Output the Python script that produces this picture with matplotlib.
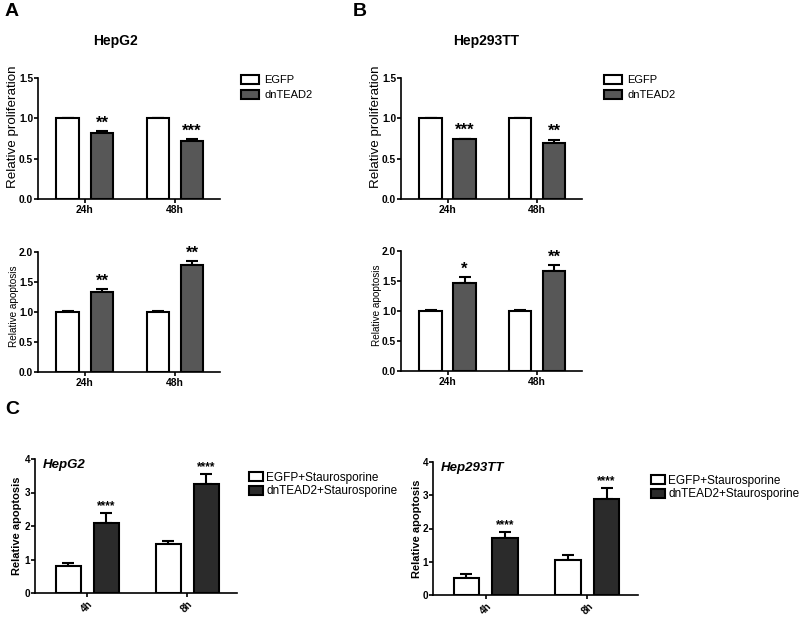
import numpy as np
import matplotlib
matplotlib.use("Agg")
import matplotlib.pyplot as plt

plt.rcParams['font.family'] = ['Liberation Sans', 'DejaVu Sans']

# data
times_ab = ['24h', '48h']
times_c = ['4h', '8h']

hepg2_prolif_egfp = [1.0, 1.0]
hepg2_prolif_egfp_err = [0.01, 0.01]
hepg2_prolif_dn = [0.82, 0.72]
hepg2_prolif_dn_err = [0.02, 0.02]
hepg2_prolif_stars = ['**', '***']

hepg2_apop_egfp = [1.0, 1.0]
hepg2_apop_egfp_err = [0.01, 0.01]
hepg2_apop_dn = [1.34, 1.78]
hepg2_apop_dn_err = [0.04, 0.07]
hepg2_apop_stars = ['**', '**']

hep293_prolif_egfp = [1.0, 1.0]
hep293_prolif_egfp_err = [0.01, 0.01]
hep293_prolif_dn = [0.74, 0.70]
hep293_prolif_dn_err = [0.01, 0.035]
hep293_prolif_stars = ['***', '**']

hep293_apop_egfp = [1.0, 1.0]
hep293_apop_egfp_err = [0.01, 0.01]
hep293_apop_dn = [1.46, 1.66]
hep293_apop_dn_err = [0.10, 0.10]
hep293_apop_stars = ['*', '**']

hepg2_stauro_egfp = [0.81, 1.45]
hepg2_stauro_egfp_err = [0.10, 0.11]
hepg2_stauro_dn = [2.10, 3.25]
hepg2_stauro_dn_err = [0.30, 0.31]
hepg2_stauro_stars = ['****', '****']

hep293_stauro_egfp = [0.51, 1.04]
hep293_stauro_egfp_err = [0.11, 0.16]
hep293_stauro_dn = [1.71, 2.88]
hep293_stauro_dn_err = [0.19, 0.34]
hep293_stauro_stars = ['****', '****']

W, H = 800, 617
fig = plt.figure(figsize=(W / 100, H / 100), dpi=100)


def px_axes(left, top, right, bottom):
    return fig.add_axes([left / W, 1 - bottom / H, (right - left) / W, (bottom - top) / H])


def bar_panel(ax, times, egfp, egfp_err, dn, dn_err, stars, ymax, yticks, ylabel,
              dn_color, labels, label_off, label_y=0.5, lfs=7, lfw='bold', rot=0,
              star_size=9, tfs=7):
    x = np.arange(len(times))
    off, w = 0.19, 0.25
    ax.bar(x - off, egfp, w, color='white', edgecolor='black', linewidth=1.5,
           label=labels[0], zorder=2)
    ax.bar(x + off, dn, w, color=dn_color, edgecolor='black', linewidth=1.5,
           label=labels[1], zorder=2)
    ax.errorbar(x - off, egfp, yerr=[np.zeros(len(x)), egfp_err], fmt='none',
                ecolor='black', elinewidth=1.5, capsize=4, capthick=1.5, zorder=1)
    ax.errorbar(x + off, dn, yerr=[np.zeros(len(x)), dn_err], fmt='none',
                ecolor='black', elinewidth=1.5, capsize=4, capthick=1.5, zorder=1)
    for xi, v, e, s in zip(x, dn, dn_err, stars):
        ax.text(xi + off, v + e + ymax * 0.005, s, ha='center', va='bottom',
                fontsize=star_size, fontweight='bold')
    ax.set_xlim(-0.52, 1.5)
    ax.set_ylim(0, ymax)
    ax.set_yticks(yticks)
    ax.set_xticks(x)
    if rot:
        ax.set_xticklabels(times, rotation=rot, ha='center', fontsize=tfs, fontweight='bold')
    else:
        ax.set_xticklabels(times, fontsize=tfs, fontweight='bold')
    for t in ax.get_yticklabels():
        t.set_fontsize(tfs)
        t.set_fontweight('bold')
    ax.set_ylabel(ylabel, fontsize=lfs, fontweight=lfw)
    # right edge of the rotated label sits label_off pixels left of the axis
    width_px = ax.get_position().width * W
    ax.yaxis.set_label_coords(-label_off / width_px, label_y)
    for sp in ['top', 'right']:
        ax.spines[sp].set_visible(False)
    for sp in ['left', 'bottom']:
        ax.spines[sp].set_linewidth(1.2)
    ax.tick_params(width=1.2, length=3, pad=1.5)
    ax.tick_params(axis='y', pad=0.5)


leg_ab = dict(frameon=False, fontsize=8, handlelength=1.6, handleheight=0.9,
              labelspacing=0.4, handletextpad=0.5, bbox_transform=fig.transFigure, loc='upper left')
leg_c = dict(frameon=False, fontsize=8.5, handlelength=1.2, handleheight=0.8,
             labelspacing=0.15, handletextpad=0.3, bbox_transform=fig.transFigure, loc='upper left')

# Panel A
axA1 = px_axes(38, 78, 220, 199)
bar_panel(axA1, times_ab, hepg2_prolif_egfp, hepg2_prolif_egfp_err, hepg2_prolif_dn,
          hepg2_prolif_dn_err, hepg2_prolif_stars, 1.5, [0, 0.5, 1.0, 1.5],
          'Relative proliferation', '#575757', ['EGFP', 'dnTEAD2'], 19, 0.6, lfs=9.6, lfw='normal',
          star_size=12, tfs=7.4)
axA1.set_yticklabels(['0.0', '0.5', '1.0', '1.5'])
axA1.legend(bbox_to_anchor=(231 / W, 1 - 65 / H), **leg_ab)

axA2 = px_axes(38, 252, 220, 372)
bar_panel(axA2, times_ab, hepg2_apop_egfp, hepg2_apop_egfp_err, hepg2_apop_dn,
          hepg2_apop_dn_err, hepg2_apop_stars, 2.0, [0, 0.5, 1.0, 1.5, 2.0],
          'Relative apoptosis', '#575757', ['EGFP', 'dnTEAD2'], 19, 0.55, lfs=7.2, lfw='normal',
          star_size=12, tfs=7.4)
axA2.set_yticklabels(['0.0', '0.5', '1.0', '1.5', '2.0'])

# Panel B
axB1 = px_axes(401, 78, 582, 199)
bar_panel(axB1, times_ab, hep293_prolif_egfp, hep293_prolif_egfp_err, hep293_prolif_dn,
          hep293_prolif_dn_err, hep293_prolif_stars, 1.5, [0, 0.5, 1.0, 1.5],
          'Relative proliferation', '#575757', ['EGFP', 'dnTEAD2'], 19, 0.6, lfs=9.6, lfw='normal',
          star_size=12, tfs=7.4)
axB1.set_yticklabels(['0.0', '0.5', '1.0', '1.5'])
axB1.legend(bbox_to_anchor=(594 / W, 1 - 65 / H), **leg_ab)

axB2 = px_axes(401, 251, 582, 371)
bar_panel(axB2, times_ab, hep293_apop_egfp, hep293_apop_egfp_err, hep293_apop_dn,
          hep293_apop_dn_err, hep293_apop_stars, 2.0, [0, 0.5, 1.0, 1.5, 2.0],
          'Relative apoptosis', '#575757', ['EGFP', 'dnTEAD2'], 19, 0.55, lfs=7.2, lfw='normal',
          star_size=12, tfs=7.4)
axB2.set_yticklabels(['0.0', '0.5', '1.0', '1.5', '2.0'])

# Panel C
axC1 = px_axes(35, 459, 237, 593)
bar_panel(axC1, times_c, hepg2_stauro_egfp, hepg2_stauro_egfp_err, hepg2_stauro_dn,
          hepg2_stauro_dn_err, hepg2_stauro_stars, 4, [0, 1, 2, 3, 4],
          'Relative apoptosis', '#2b2b2b', ['EGFP+Staurosporine', 'dnTEAD2+Staurosporine'],
          13, lfs=8, rot=45, star_size=8.5, tfs=7.2)
axC1.text(0.04, 1.0, 'HepG2', transform=axC1.transAxes, fontsize=9.5, fontweight='bold',
          style='italic', va='top')
axC1.legend(bbox_to_anchor=(238 / W, 1 - 461 / H), **leg_c)

axC2 = px_axes(433, 462, 638, 595)
bar_panel(axC2, times_c, hep293_stauro_egfp, hep293_stauro_egfp_err, hep293_stauro_dn,
          hep293_stauro_dn_err, hep293_stauro_stars, 4, [0, 1, 2, 3, 4],
          'Relative apoptosis', '#2b2b2b', ['EGFP+Staurosporine', 'dnTEAD2+Staurosporine'],
          11, lfs=8, rot=45, star_size=8.5, tfs=7.2)
axC2.text(0.04, 1.0, 'Hep293TT', transform=axC2.transAxes, fontsize=9.5, fontweight='bold',
          style='italic', va='top')
axC2.legend(bbox_to_anchor=(640 / W, 1 - 464 / H), **leg_c)

# titles and panel letters
fig.text(115 / W, 1 - 41 / H, 'HepG2', ha='center', va='center', fontsize=10, fontweight='bold')
fig.text(486 / W, 1 - 41 / H, 'Hep293TT', ha='center', va='center', fontsize=10, fontweight='bold')
fig.text(5 / W, 1 - 12 / H, 'A', ha='left', va='center', fontsize=14, fontweight='bold')
fig.text(353 / W, 1 - 12 / H, 'B', ha='left', va='center', fontsize=14, fontweight='bold')
fig.text(5 / W, 1 - 410 / H, 'C', ha='left', va='center', fontsize=14, fontweight='bold')

fig.savefig('out.png', dpi=100)
